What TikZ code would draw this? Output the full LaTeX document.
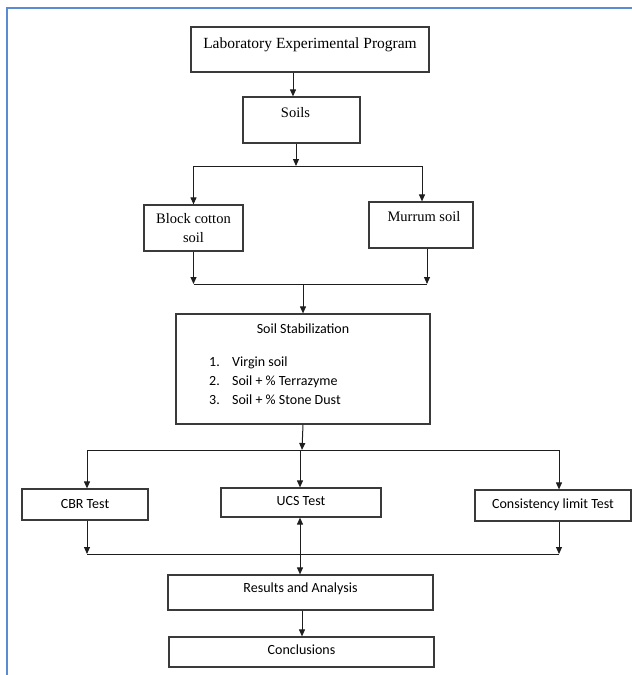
\documentclass[tikz,border=0pt]{standalone}
\usepackage{fontspec}
\setmainfont{Liberation Serif}
\newfontfamily\sansf{Carlito}
\usetikzlibrary{arrows.meta}
\definecolor{frameblue}{HTML}{5B8BD0}
\definecolor{boxgray}{HTML}{3A3A3A}
\definecolor{linegray}{HTML}{1E1E1E}
\begin{document}
\begin{tikzpicture}[x=1pt,y=1pt,
  box/.style={draw=boxgray, line width=1.2pt, inner sep=0pt, minimum height=0pt, align=center},
  serif/.style={font=\fontsize{14.5}{19}\selectfont},
  sans/.style={font=\sansf\fontsize{14}{19}\selectfont},
  arr/.style={draw=linegray, line width=1pt, -{Triangle[length=7pt,width=6pt]}},
  darr/.style={draw=linegray, line width=1pt, {Triangle[length=7pt,width=6pt]}-{Triangle[length=7pt,width=6pt]}},
  plain/.style={draw=linegray, line width=1pt}]
\useasboundingbox (0,0) rectangle (632,-675);
% frame
\draw[frameblue, line width=2pt] (632,-8) -- (7,-8) -- (7,-675);
% boxes
\node[box, font=\fontsize{15.5}{19}\selectfont, minimum width=238pt, text height=21pt, text depth=24pt] (lab) at (310,-49.5) {Laboratory Experimental Program};
\node[box, serif, minimum width=117pt, text height=20pt, text depth=26pt] (soils) at (301.5,-120) {\hspace*{-12pt}Soils};
\node[box, serif, minimum width=99pt, text height=18pt, text depth=28pt] (bc) at (193.5,-228) {\begin{tabular}[t]{@{}c@{}}Block cotton\\soil\end{tabular}};
\node[box, serif, minimum width=104pt, text height=19pt, text depth=27pt] (mur) at (421,-225) {\hspace*{6pt}Murrum soil};
\node[box, sans, minimum width=254pt, text height=19pt, text depth=91pt] (stab) at (303,-369) {Soil Stabilization};
\node[sans, anchor=base west, inner sep=0pt] (list) at (209,-366) {\begin{tabular}[t]{@{}l@{}}\makebox[23pt][l]{1.}Virgin soil\\\makebox[23pt][l]{2.}Soil + \% Terrazyme\\\makebox[23pt][l]{3.}Soil + \% Stone Dust\end{tabular}};
\node[box, sans, minimum width=126pt, text height=19.3pt, text depth=11.7pt] (cbr) at (85,-504.5) {CBR Test};
\node[box, sans, minimum width=160pt, text height=17.3pt, text depth=11.7pt] (ucs) at (301,-502.5) {UCS Test};
\node[box, sans, minimum width=156pt, text height=18.3pt, text depth=12.7pt] (cons) at (553,-505.5) {Consistency limit Test};
\node[box, sans, minimum width=265pt, text height=17.3pt, text depth=17.7pt] (res) at (300.5,-592.5) {Results and Analysis};
\node[box, sans, minimum width=265pt, text height=17.3pt, text depth=12.7pt] (conc) at (301.5,-652) {Conclusions};
% junction points
\coordinate (s1) at (296,-166);
\coordinate (m1) at (303,-284);
\coordinate (t1) at (302,-450);
\coordinate (b1) at (300,-554);
% connectors
\draw[arr] ([xshift=-8.5pt]soils.north |- lab.south) -- ([xshift=-8.5pt]soils.north);
\draw[arr] (s1 |- soils.south) -- (s1);
\draw[plain] (bc.north |- s1) -- ([xshift=1pt]mur.north |- s1);
\draw[arr] (bc.north |- s1) -- (bc.north);
\draw[arr] ([xshift=1pt]mur.north |- s1) -- ([xshift=1pt]mur.north);
\draw[arr] (bc.south) -- (bc.south |- m1);
\draw[arr] ([xshift=6pt]mur.south) -- ([xshift=6pt]mur.south |- m1);
\draw[plain] (bc.south |- m1) -- ([xshift=6pt]mur.south |- m1);
\draw[arr] (m1) -- (stab.north);
\draw[arr] (stab.south) -- (t1);
\draw[plain] ([xshift=2pt]cbr.north |- t1) -- ([xshift=6pt]cons.north |- t1);
\draw[arr] ([xshift=2pt]cbr.north |- t1) -- ([xshift=2pt]cbr.north);
\draw[arr] ([xshift=-1pt]ucs.north |- t1) -- ([xshift=-1pt]ucs.north);
\draw[arr] ([xshift=6pt]cons.north |- t1) -- ([xshift=6pt]cons.north);
\draw[arr] ([xshift=2pt]cbr.south) -- ([xshift=2pt]cbr.south |- b1);
\draw[arr] ([xshift=6pt]cons.south) -- ([xshift=6pt]cons.south |- b1);
\draw[plain] ([xshift=2pt]cbr.south |- b1) -- ([xshift=6pt]cons.south |- b1);
\draw[darr] ([xshift=-1pt]ucs.south) -- ([xshift=-1pt]ucs.south |- res.north);
\draw[arr] ([xshift=1.5pt]res.south) -- ([xshift=1.5pt]res.south |- conc.north);
\end{tikzpicture}
\end{document}
